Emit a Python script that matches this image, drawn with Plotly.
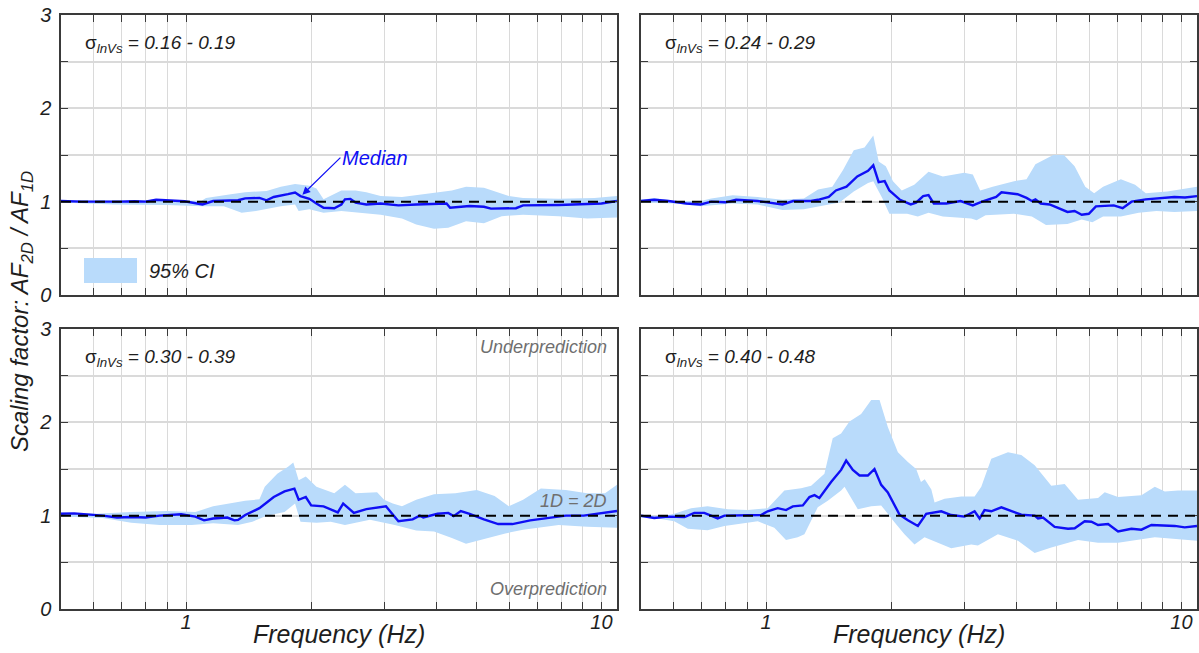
import numpy as np
import plotly.graph_objects as go
from plotly.subplots import make_subplots

# ---------------------------------------------------------------------------
# Data: median scaling factor and 95% confidence band, one panel per
# sigma_lnVs bin.  Frequencies in Hz.
# ---------------------------------------------------------------------------
panel_labels = ["0.16 - 0.19", "0.24 - 0.29", "0.30 - 0.39", "0.40 - 0.48"]

# --- sigma_lnVs = 0.16 - 0.19 ---
f_med_1 = [0.50, 0.56, 0.695, 0.752, 0.798, 0.847, 0.992, 1.095, 1.162, 1.334, 1.388,
           1.502, 1.562, 1.626, 1.759, 1.830, 1.885, 1.981, 2.060, 2.143, 2.274, 2.365,
           2.413, 2.486, 2.559, 2.716, 2.940, 3.245, 3.581, 3.953, 4.237, 4.322, 4.816,
           5.212, 5.421, 6.226, 6.476, 7.892, 8.883, 10.0, 10.9]
med_1 = [1.007, 1.00, 1.00, 1.005, 1.00, 1.02, 1.005, 0.97, 1.007, 1.015, 1.035,
         1.04, 1.015, 1.05, 1.08, 1.097, 1.06, 1.03, 0.98, 0.935, 0.93, 0.97,
         1.025, 1.03, 0.99, 0.97, 0.98, 0.96, 0.97, 0.975, 0.98, 0.935, 0.953,
         0.945, 0.925, 0.93, 0.96, 0.965, 0.975, 0.98, 1.007]
f_hi_1 = [0.50, 0.70, 0.90, 1.09, 1.117, 1.282, 1.388, 1.562, 1.691, 1.830, 1.981, 2.060,
          2.143, 2.365, 2.559, 2.716, 2.940, 3.31, 3.953, 4.364, 4.72, 5.212, 5.984,
          6.476, 7.889, 9.613, 10.9]
hi_1 = [1.012, 1.015, 1.015, 1.01, 1.04, 1.08, 1.10, 1.115, 1.16, 1.19, 1.17, 1.14,
        1.025, 1.12, 1.12, 1.10, 1.06, 1.05, 1.10, 1.12, 1.16, 1.15, 1.06,
        1.04, 1.03, 1.04, 1.06]
f_lo_1 = [0.50, 0.669, 0.899, 1.095, 1.233, 1.308, 1.361, 1.473, 1.691, 1.830, 1.866,
          1.981, 2.143, 2.365, 2.940, 3.31, 3.581, 3.953, 4.278, 4.72, 5.212, 5.753,
          6.476, 7.889, 9.24, 10.9]
lo_1 = [0.99, 0.97, 0.965, 0.95, 0.95, 0.91, 0.88, 0.90, 0.95, 0.97, 0.90,
        0.92, 0.88, 0.90, 0.86, 0.82, 0.755, 0.71, 0.72, 0.79, 0.77, 0.845,
        0.86, 0.845, 0.82, 0.83]

# --- sigma_lnVs = 0.24 - 0.29 ---
f_med_2 = [0.50, 0.538, 0.582, 0.643, 0.696, 0.738, 0.799, 0.847, 0.954, 1.095, 1.162,
           1.282, 1.334, 1.416, 1.473, 1.562, 1.658, 1.760, 1.812, 1.867, 1.930, 1.981,
           2.102, 2.230, 2.297, 2.389, 2.461, 2.535, 2.717, 2.940, 3.146, 3.31, 3.581,
           3.688, 4.032, 4.237, 4.364, 4.451, 4.585, 4.816, 5.316, 5.531, 5.753, 5.984,
           6.225, 6.871, 7.218, 7.583, 8.207, 8.882, 9.613, 10.2, 10.9]
med_2 = [1.007, 1.02, 1.007, 0.98, 0.97, 1.0, 0.993, 1.02, 1.007, 0.97, 1.007,
         1.007, 1.02, 1.05, 1.12, 1.16, 1.27, 1.33, 1.39, 1.21, 1.22, 1.12,
         1.02, 0.97, 0.99, 1.06, 1.07, 0.98, 0.98, 1.007, 0.96, 1.0, 1.05,
         1.10, 1.08, 1.04, 1.007, 1.025, 0.98, 0.97, 0.89, 0.90, 0.86, 0.87,
         0.95, 0.96, 0.93, 1.0, 1.025, 1.04, 1.05, 1.045, 1.06]
f_hi_2 = [0.50, 0.538, 0.606, 0.696, 0.738, 0.831, 0.954, 1.095, 1.233, 1.334, 1.444,
          1.532, 1.626, 1.726, 1.812, 1.867, 1.942, 2.021, 2.122, 2.274, 2.461, 2.664,
          2.998, 3.146, 3.277, 3.512, 3.953, 4.237, 4.451, 4.912, 5.212, 5.531, 5.867,
          6.165, 6.476, 7.147, 7.735, 8.207, 9.24, 10.9]
hi_2 = [1.02, 1.04, 1.007, 1.007, 1.035, 1.07, 1.05, 1.02, 1.035, 1.13, 1.16,
        1.34, 1.55, 1.58, 1.71, 1.43, 1.38, 1.22, 1.12, 1.18, 1.32, 1.27,
        1.31, 1.29, 1.12, 1.16, 1.22, 1.24, 1.40, 1.50, 1.50, 1.38, 1.16,
        1.09, 1.16, 1.24, 1.18, 1.09, 1.11, 1.16]
f_lo_2 = [0.50, 0.606, 0.696, 0.831, 0.954, 1.095, 1.233, 1.334, 1.502, 1.626, 1.760,
          1.812, 1.904, 1.981, 2.186, 2.319, 2.461, 2.664, 3.116, 3.213, 3.376, 3.953,
          4.364, 4.72, 5.316, 5.753, 6.104, 6.476, 7.147, 7.889, 8.709, 9.613, 10.9]
lo_2 = [0.99, 0.98, 0.95, 0.98, 0.97, 0.91, 0.92, 0.95, 0.99, 1.11, 1.20,
        1.22, 1.04, 0.87, 0.87, 0.84, 0.88, 0.84, 0.82, 0.80, 0.855, 0.87,
        0.84, 0.75, 0.76, 0.81, 0.78, 0.84, 0.84, 0.88, 0.90, 0.89, 0.90]

# --- sigma_lnVs = 0.30 - 0.39 ---
f_med_3 = [0.50, 0.538, 0.630, 0.682, 0.738, 0.799, 0.864, 0.973, 1.053, 1.105, 1.162,
           1.257, 1.308, 1.334, 1.388, 1.502, 1.626, 1.726, 1.823, 1.867, 1.942, 2.001,
           2.143, 2.319, 2.389, 2.535, 2.717, 3.029, 3.245, 3.512, 3.653, 3.725, 4.032,
           4.278, 4.407, 4.585, 4.816, 5.212, 5.641, 6.104, 6.737, 7.29, 8.207, 9.06,
           10.2, 10.9]
med_3 = [1.02, 1.025, 1.0, 0.98, 0.985, 0.98, 1.0, 1.015, 0.99, 0.95, 0.97,
         0.98, 0.95, 0.955, 1.007, 1.08, 1.20, 1.26, 1.29, 1.17, 1.20, 1.11,
         1.10, 1.035, 1.13, 1.03, 1.07, 1.10, 0.94, 0.96, 1.0, 0.98, 1.02,
         1.03, 0.995, 1.05, 1.02, 0.96, 0.91, 0.91, 0.95, 0.97, 1.0, 1.0,
         1.03, 1.05]
f_hi_3 = [0.50, 0.606, 0.738, 0.899, 1.053, 1.162, 1.388, 1.502, 1.547, 1.658, 1.760,
          1.812, 1.867, 1.942, 2.060, 2.274, 2.413, 2.559, 2.883, 2.998, 3.146, 3.31,
          3.581, 3.953, 4.451, 5.01, 5.531, 5.984, 6.476, 7.147, 8.207, 9.24, 10.2, 10.9]
hi_3 = [1.035, 1.02, 1.04, 1.05, 1.04, 1.10, 1.16, 1.175, 1.31, 1.45, 1.525,
        1.57, 1.38, 1.42, 1.31, 1.24, 1.33, 1.24, 1.25, 1.17, 1.13, 1.10,
        1.17, 1.23, 1.24, 1.275, 1.21, 1.10, 1.17, 1.29, 1.275, 1.24, 1.24, 1.33]
f_lo_3 = [0.50, 0.630, 0.738, 0.864, 1.032, 1.162, 1.334, 1.444, 1.562, 1.726, 1.830,
          1.886, 2.060, 2.230, 2.413, 2.771, 3.181, 3.581, 3.953, 4.364, 4.72, 5.316,
          5.867, 6.476, 7.889, 9.24, 10.9]
lo_3 = [0.99, 0.975, 0.925, 0.90, 0.90, 0.92, 0.90, 0.935, 1.0, 1.04, 1.13,
        0.935, 0.925, 0.935, 0.90, 0.955, 0.90, 0.84, 0.83, 0.76, 0.70, 0.76,
        0.81, 0.85, 0.90, 0.88, 0.87]

# --- sigma_lnVs = 0.40 - 0.48 ---
f_med_4 = [0.50, 0.538, 0.580, 0.636, 0.672, 0.710, 0.737, 0.765, 0.794, 0.903, 0.973,
           1.009, 1.067, 1.117, 1.160, 1.226, 1.272, 1.308, 1.344, 1.434, 1.516, 1.559,
           1.618, 1.679, 1.758, 1.824, 1.893, 1.964, 2.096, 2.195, 2.320, 2.430, 2.641,
           2.791, 3.005, 3.177, 3.266, 3.357, 3.485, 3.685, 3.894, 4.116, 4.432, 4.515,
           4.642, 4.952, 5.333, 5.534, 5.849, 6.070, 6.298, 6.658, 7.037, 7.578, 8.010,
           8.467, 9.636, 10.18, 10.9]
med_4 = [1.0, 0.975, 0.99, 0.985, 1.03, 1.03, 1.0, 0.97, 1.0, 1.0, 1.007,
         1.047, 1.08, 1.06, 1.10, 1.11, 1.20, 1.22, 1.19, 1.36, 1.49, 1.59,
         1.49, 1.43, 1.43, 1.50, 1.33, 1.25, 1.01, 0.95, 0.89, 1.02, 1.047,
         1.007, 0.99, 1.047, 0.97, 1.06, 1.047, 1.09, 1.05, 1.01, 1.0, 0.97,
         0.98, 0.88, 0.86, 0.865, 0.94, 0.935, 0.90, 0.91, 0.83, 0.86, 0.85,
         0.90, 0.89, 0.875, 0.89]
f_hi_4 = [0.50, 0.558, 0.601, 0.660, 0.723, 0.809, 0.903, 1.009, 1.107, 1.214, 1.284,
          1.382, 1.447, 1.516, 1.588, 1.694, 1.791, 1.876, 1.964, 2.077, 2.195, 2.298,
          2.36, 2.41, 2.50, 2.545, 2.690, 2.951, 3.177, 3.297, 3.485, 3.823, 4.116,
          4.432, 4.861, 5.235, 5.636, 6.298, 6.536, 7.037, 8.010, 8.627, 9.118, 9.817,
          10.9]
hi_4 = [1.01, 0.99, 1.02, 1.08, 1.10, 1.07, 1.06, 1.08, 1.27, 1.295, 1.32,
        1.45, 1.83, 1.88, 2.01, 2.09, 2.24, 2.24, 1.95, 1.68, 1.575, 1.50,
        1.36, 1.39, 1.28, 1.14, 1.18, 1.205, 1.205, 1.31, 1.61, 1.68, 1.65,
        1.54, 1.32, 1.34, 1.17, 1.19, 1.25, 1.20, 1.22, 1.31, 1.26, 1.27,
        1.27]
f_lo_4 = [0.50, 0.558, 0.601, 0.648, 0.723, 0.794, 0.855, 0.955, 1.047, 1.117, 1.192,
          1.237, 1.332, 1.408, 1.516, 1.545, 1.663, 1.791, 1.893, 2.038, 2.154, 2.277,
          2.407, 2.498, 2.791, 3.119, 3.236, 3.616, 4.041, 4.432, 4.861, 5.636, 6.298,
          7.037, 7.865, 8.627, 10.9]
lo_4 = [0.98, 0.965, 0.94, 0.86, 0.845, 0.89, 0.91, 0.94, 0.87, 0.74, 0.77,
        0.80, 1.09, 1.16, 1.27, 1.31, 1.07, 1.10, 1.11, 0.93, 0.80, 0.69,
        0.77, 0.74, 0.65, 0.69, 0.68, 0.80, 0.73, 0.60, 0.66, 0.74, 0.71,
        0.71, 0.74, 0.77, 0.73]

series = [
    (f_med_1, med_1, f_hi_1, hi_1, f_lo_1, lo_1),
    (f_med_2, med_2, f_hi_2, hi_2, f_lo_2, lo_2),
    (f_med_3, med_3, f_hi_3, hi_3, f_lo_3, lo_3),
    (f_med_4, med_4, f_hi_4, hi_4, f_lo_4, lo_4),
]

x_major = [1, 10]
x_major_text = ["1", "10"]
x_minor = [0.6, 0.7, 0.8, 0.9, 2, 3, 4, 5, 6, 7, 8, 9]
y_major = [0, 1, 2, 3]
y_major_text = ["0", "1", "2", "3"]
y_minor = [0.5, 1.5, 2.5]
f_min, f_max = 0.5, 10.9

# ---------------------------------------------------------------------------
W, H = 1199, 653
FONT = "Arial, Liberation Sans, sans-serif"
BAND = "rgb(185,219,251)"
MEDIAN = "rgb(15,15,245)"
AXIS = "#3a3a3a"
GRID = "#dadada"
TXT = "#1e1e1e"
GREY = "#6f6f6f"

fig = make_subplots(rows=2, cols=2)

for k, (fm, m, fh, h, fl, l) in enumerate(series):
    r, c = k // 2 + 1, k % 2 + 1
    fig.add_trace(go.Scatter(x=list(fh) + list(fl)[::-1], y=list(h) + list(l)[::-1],
                             fill="toself", fillcolor=BAND, line=dict(width=0),
                             mode="lines", hoverinfo="skip", showlegend=False),
                  row=r, col=c)
    fig.add_trace(go.Scatter(x=fm, y=m, mode="lines",
                             line=dict(color=MEDIAN, width=2.4),
                             showlegend=False),
                  row=r, col=c)
    fig.add_hline(y=1, line=dict(color="black", width=2, dash="10px,7px"),
                  row=r, col=c)

# panel placement (pixel boxes)
col_px = [(61, 617), (641, 1197)]
row_px = [(15, 295), (329, 609)]

tick_font = dict(family=FONT, size=20, color=TXT, style="italic")

for k in range(4):
    r, c = k // 2, k % 2
    xa = "xaxis" if k == 0 else f"xaxis{k + 1}"
    ya = "yaxis" if k == 0 else f"yaxis{k + 1}"
    x0, x1 = col_px[c]
    y0, y1 = row_px[r]
    fig.layout[xa].update(
        domain=[x0 / W, x1 / W], type="log",
        range=[np.log10(f_min), np.log10(f_max)],
        tickmode="array", tickvals=x_major, ticktext=x_major_text,
        showticklabels=(r == 1), ticks="inside", ticklen=7, tickwidth=1.2,
        tickcolor=AXIS, showgrid=True, gridcolor=GRID, gridwidth=1.2,
        minor=dict(tickmode="array", tickvals=x_minor, ticks="inside", ticklen=7,
                   tickwidth=1.2, tickcolor=AXIS, showgrid=True,
                   gridcolor=GRID, gridwidth=1.2),
        showline=True, linecolor=AXIS, linewidth=1.5, mirror="allticks",
        zeroline=False, automargin=False, ticklabelstandoff=-6,
        tickfont=tick_font,
    )
    fig.layout[ya].update(
        domain=[1 - y1 / H, 1 - y0 / H], range=[0, 3],
        tickmode="array", tickvals=y_major, ticktext=y_major_text,
        showticklabels=(c == 0), ticks="inside", ticklen=7, tickwidth=1.2,
        tickcolor=AXIS, showgrid=True, gridcolor=GRID, gridwidth=1.5,
        minor=dict(tickmode="array", tickvals=y_minor, ticks="inside", ticklen=7,
                   tickwidth=1.2, tickcolor=AXIS, showgrid=True,
                   gridcolor=GRID, gridwidth=1.5),
        showline=True, linecolor=AXIS, linewidth=1.5, mirror="allticks",
        zeroline=False, automargin=False, ticklabelstandoff=4,
        tickfont=tick_font,
    )

annotations = []
# sigma labels
for k, lab in enumerate(panel_labels):
    r, c = k // 2, k % 2
    annotations.append(dict(
        xref="paper", yref="paper", x=(col_px[c][0] + 22) / W,
        y=1 - (row_px[r][0] + 29) / H, xanchor="left", yanchor="middle",
        text=f"σ<sub><i>lnVs</i></sub> = <i>{lab}</i>", showarrow=False,
        font=dict(family=FONT, size=19, color=TXT)))

# axis titles
for c in range(2):
    annotations.append(dict(
        xref="paper", yref="paper", x=(col_px[c][0] + col_px[c][1]) / 2 / W,
        y=1 - 634 / H, xanchor="center", yanchor="middle",
        text="<i>Frequency (Hz)</i>", showarrow=False,
        font=dict(family=FONT, size=25, color=TXT)))
annotations.append(dict(
    xref="paper", yref="paper", x=22 / W, y=1 - 312 / H, textangle=-90,
    xanchor="center", yanchor="middle",
    text="<i>Scaling factor: AF<sub>2D</sub> / AF<sub>1D</sub></i>", showarrow=False,
    font=dict(family=FONT, size=24, color=TXT)))

# median call-out
annotations.append(dict(
    xref="x", yref="y", x=np.log10(1.906), y=1.075,
    ax=38, ay=-37, xanchor="left", yanchor="middle",
    text="<i>Median</i>", showarrow=True, arrowhead=2, arrowsize=1.3,
    arrowwidth=1.2, arrowcolor=MEDIAN,
    font=dict(family=FONT, size=20, color=MEDIAN)))

# band legend
annotations.append(dict(
    xref="paper", yref="paper", x=147 / W, y=1 - 271 / H,
    xanchor="left", yanchor="middle", text="<i>95% CI</i>", showarrow=False,
    font=dict(family=FONT, size=20, color=TXT)))

# guide labels in the lower-left panel
for txt, ypx in [("Underprediction", 347), ("1D = 2D", 501), ("Overprediction", 589)]:
    annotations.append(dict(
        xref="paper", yref="paper", x=609 / W, y=1 - ypx / H,
        xanchor="right", yanchor="middle", text=f"<i>{txt}</i>", showarrow=False,
        font=dict(family=FONT, size=18, color=GREY)))

fig.update_layout(
    width=W, height=H, margin=dict(l=0, r=0, t=0, b=0),
    paper_bgcolor="white", plot_bgcolor="white",
    font=dict(family=FONT, color=TXT), showlegend=False,
    annotations=annotations,
    shapes=list(fig.layout.shapes) + [dict(
        type="rect", xref="paper", yref="paper",
        x0=84 / W, x1=137 / W, y0=1 - 283 / H, y1=1 - 258 / H,
        fillcolor=BAND, line=dict(width=0), layer="above")],
)

fig.write_html("out.html")
